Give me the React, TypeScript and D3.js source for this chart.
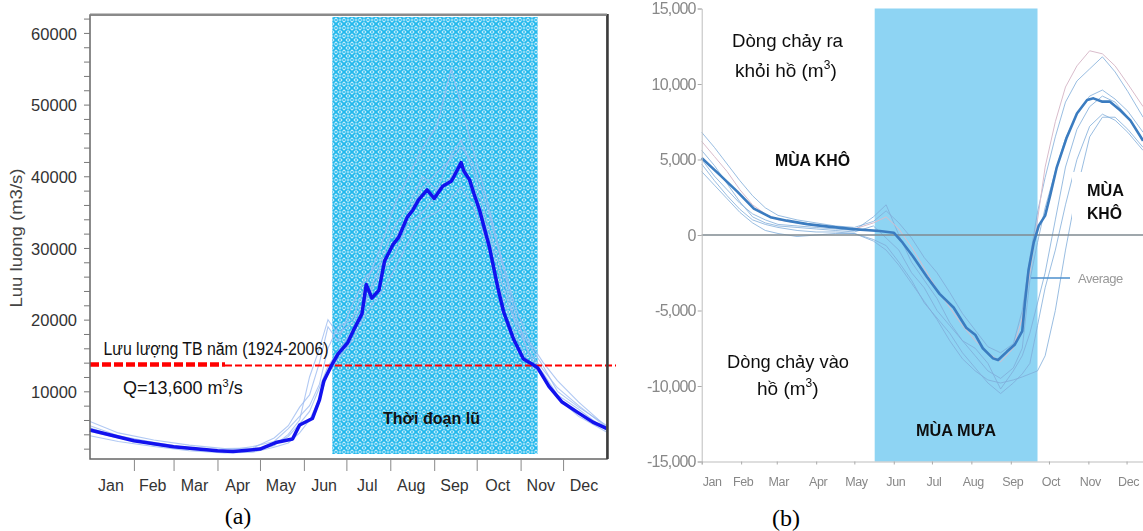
import { useEffect, useRef } from 'react';
import * as d3 from 'd3';

// shared calendar
const monthNames = ['Jan', 'Feb', 'Mar', 'Apr', 'May', 'Jun', 'Jul', 'Aug', 'Sep', 'Oct', 'Nov', 'Dec'];
const monthStarts = [0, 31, 59, 90, 120, 151, 181, 212, 243, 273, 304, 334, 365];

// ---- panel (a): discharge
const floodPeriodA = [171, 316];
const avgFlowA = 13600;
const meanDayA = [0, 31, 59, 90, 101, 120, 132, 143, 148, 157, 162, 165, 171, 175, 182, 186, 192, 195, 199, 204, 208, 214, 218, 224, 228, 232, 238, 243, 249, 255, 257, 262, 264, 268, 271, 275, 282, 288, 292, 299, 306, 312, 316, 324, 333, 344, 355, 365];
const meanFlowA = [4600, 3100, 2260, 1700, 1600, 1950, 2900, 3350, 5300, 6200, 8800, 11400, 13800, 15200, 16800, 18500, 20800, 24900, 23000, 24100, 28200, 30500, 31500, 34300, 35300, 36700, 38100, 36900, 38600, 39300, 40000, 41900, 40700, 39500, 37600, 35300, 30100, 24400, 21100, 17300, 14500, 13800, 13300, 10700, 8550, 7100, 5700, 4800];
const yearDayA = [0, 20, 45, 70, 95, 115, 130, 140, 148, 155, 162, 168, 175, 185, 195, 205, 215, 225, 235, 245, 255, 262, 270, 280, 290, 300, 310, 320, 330, 345, 365];
const yearFlowA1 = [5800, 4200, 3200, 2500, 2000, 2100, 3500, 5200, 7800, 9500, 14000, 19000, 17000, 22000, 26000, 28000, 33000, 36000, 40000, 38000, 43000, 45000, 41000, 34000, 27000, 20000, 16500, 13500, 10000, 7800, 5200];
const yearFlowA2 = [3800, 3000, 2300, 1700, 1400, 1500, 2200, 2800, 4200, 6000, 9000, 12500, 14500, 17000, 21000, 23500, 27000, 31000, 34000, 35000, 37000, 38500, 36000, 31000, 24000, 18000, 14000, 12000, 9000, 6500, 4300];
const yearFlowA3 = [4400, 3500, 2700, 2000, 1700, 2300, 3000, 4800, 6500, 8000, 11000, 16000, 19000, 20000, 25000, 30000, 36000, 40000, 44000, 47000, 55000, 50000, 44000, 37000, 29000, 22000, 17000, 14000, 11500, 8500, 5000];
const yearFlowA4 = [5200, 3800, 2900, 2100, 1600, 1800, 2600, 3700, 5500, 7200, 10500, 13500, 15500, 18500, 22500, 26500, 29000, 33500, 35000, 37500, 40000, 42000, 39000, 33000, 25500, 19500, 15500, 13000, 10500, 8000, 4900];
const yearFlowA5 = [4900, 3600, 2500, 1900, 1500, 1700, 2400, 4000, 6000, 12000, 16000, 20000, 18000, 19500, 23000, 27500, 31000, 35000, 38500, 40500, 42500, 44000, 42000, 36000, 28500, 21000, 15000, 12500, 9500, 7500, 4500];

// ---- panel (b): reservoir exchange
const rainSeasonB = [136, 264];
const meanDayB = [0, 14, 28, 41, 54, 67, 83, 98, 119, 140, 151, 158, 166, 177, 187, 198, 208, 215, 221, 229, 233, 240, 246, 252, 254, 257, 261, 265, 270, 274, 279, 287, 295, 303, 308, 315, 321, 329, 337, 347];
const meanFlowB = [5100, 4000, 2870, 1750, 1180, 950, 720, 570, 390, 270, 150, -510, -1410, -2770, -3900, -4800, -6140, -6600, -7500, -8170, -8280, -7720, -7270, -6370, -4560, -2300, -510, 620, 1280, 2640, 4440, 6460, 8050, 8940, 9050, 8830, 8830, 8260, 7590, 6240];
const yearDayB = [0, 10, 20, 30, 40, 50, 60, 75, 90, 105, 120, 135, 145, 155, 165, 175, 185, 195, 205, 215, 225, 235, 245, 252, 258, 264, 270, 278, 286, 295, 305, 315, 325, 335, 347];
const yearFlowB1 = [6800, 5800, 4700, 3600, 2600, 1800, 1300, 1000, 800, 600, 500, 900, 1600, 800, -200, -1500, -2500, -3800, -5200, -6300, -7400, -7800, -7200, -5000, -1500, 1500, 3800, 6500, 8800, 10200, 11000, 11800, 10800, 9500, 7800];
const yearFlowB2 = [4200, 3300, 2400, 1500, 800, 300, 100, -100, 0, 100, 100, -300, -700, -1800, -3000, -4500, -5500, -6500, -7800, -8800, -9800, -10500, -9800, -9200, -8500, -6000, -3500, -1000, 2000, 5000, 7200, 8000, 7600, 6800, 5600];
const yearFlowB3 = [5600, 4600, 3400, 2200, 1200, 800, 600, 500, 400, 300, 200, 600, -200, -1000, -2500, -3500, -5000, -6000, -7000, -8000, -9000, -9500, -8800, -7500, -3000, -500, 1800, 4200, 6400, 8000, 9200, 9600, 9000, 8200, 6800];
const yearFlowB4 = [5000, 3900, 3000, 2100, 1400, 1000, 700, 600, 500, 400, 300, 1200, 2000, 0, -1800, -3000, -4200, -5800, -7000, -7500, -8500, -10200, -9000, -8000, -6500, -4500, -2500, 1000, 4500, 7000, 8500, 9200, 8800, 7800, 6300];
const yearFlowB5 = [4700, 3600, 2600, 1700, 1000, 700, 500, 300, 200, 200, 100, -400, -1000, -2000, -3200, -4400, -5600, -7000, -8200, -9000, -9600, -9800, -9600, -9400, -9200, -9000, -8000, -5000, -1000, 3000, 6500, 7800, 7800, 7000, 5800];
const yearFlowB6 = [6200, 5200, 4200, 3000, 2000, 1400, 1000, 800, 600, 500, 400, 800, 1200, 400, -800, -2200, -3600, -4800, -6000, -7000, -7800, -8400, -7500, -5500, -2500, 1000, 4500, 7500, 9800, 11200, 12200, 12000, 11200, 10000, 8500];

const SANS = "'Liberation Sans', Arial, sans-serif";

export default function App() {
  const ref = useRef<SVGSVGElement>(null);

  useEffect(() => {
    if (!ref.current) return;
    const svg = d3.select(ref.current);
    svg.selectAll('*').remove();

    const defs = svg.append('defs');
    const pat = defs.append('pattern').attr('id', 'lattice')
      .attr('patternUnits', 'userSpaceOnUse').attr('width', 8).attr('height', 8);
    pat.append('rect').attr('width', 8).attr('height', 8).attr('fill', '#c8eefc');
    pat.append('path').attr('d', 'M0,0L8,8M8,0L0,8').attr('stroke', '#22b8ec').attr('stroke-width', 1.9);
    pat.append('path').attr('d', 'M4,0V1.5M4,6.5V8M0,4H1.5M6.5,4H8').attr('stroke', '#22b8ec').attr('stroke-width', 1.4);
    pat.append('rect').attr('x', 3.3).attr('y', 3.3).attr('width', 1.4).attr('height', 1.4).attr('fill', '#ffffff');
    defs.append('filter').attr('id', 'soft').append('feGaussianBlur').attr('stdDeviation', 0.45);

    // ================= (a)
    const A = { left: 90, right: 607, top: 15, bottom: 459 };
    const xA = d3.scaleLinear().domain([0, 365]).range([A.left, A.right]);
    const yA = d3.scaleLinear().domain([0, 62500]).range([463, A.top]);
    const ga = svg.append('g');

    ga.append('rect')
      .attr('x', xA(floodPeriodA[0])).attr('y', A.top + 2)
      .attr('width', xA(floodPeriodA[1]) - xA(floodPeriodA[0]))
      .attr('height', A.bottom - A.top - 7)
      .attr('fill', 'url(#lattice)');

    const lineA = (days: number[]) => d3.line<number>().x((_, i) => xA(days[i])).y(d => yA(d));
    [yearFlowA1, yearFlowA2, yearFlowA3, yearFlowA4, yearFlowA5].forEach(s => {
      ga.append('path').attr('d', lineA(yearDayA)(s)).attr('fill', 'none')
        .attr('stroke', '#9dbcf0').attr('stroke-width', 1.1).attr('opacity', 0.8);
    });

    // average annual discharge
    const yAvg = yA(avgFlowA);
    ga.append('line').attr('x1', A.left).attr('x2', 225).attr('y1', yAvg - 1).attr('y2', yAvg - 1)
      .attr('stroke', '#ff0000').attr('stroke-width', 4.5).attr('stroke-dasharray', '9,3');
    ga.append('line').attr('x1', 225).attr('x2', 616).attr('y1', yAvg).attr('y2', yAvg)
      .attr('stroke', '#ff0000').attr('stroke-width', 2).attr('stroke-dasharray', '7,3');

    ga.append('path').attr('d', lineA(meanDayA)(meanFlowA)).attr('fill', 'none')
      .attr('stroke', '#1212ee').attr('stroke-width', 3.5).attr('stroke-linejoin', 'round');

    // frame
    ga.append('rect').attr('x', A.left).attr('y', A.top).attr('width', A.right - A.left).attr('height', A.bottom - A.top)
      .attr('fill', 'none').attr('stroke', '#666').attr('stroke-width', 1.5);
    ga.append('line').attr('x1', A.right + 0.5).attr('x2', A.right + 0.5).attr('y1', A.top - 1).attr('y2', A.bottom)
      .attr('stroke', '#3c3c3c').attr('stroke-width', 2.5);
    ga.append('line').attr('x1', A.left).attr('x2', A.right).attr('y1', A.top - 0.5).attr('y2', A.top - 0.5)
      .attr('stroke', '#8a8a8a').attr('stroke-width', 2);

    const axL = ga.append('g').attr('transform', `translate(${A.left},0)`)
      .call(d3.axisLeft(yA).tickValues(d3.range(2000, 62001, 2000)).tickSize(6).tickPadding(7)
        .tickFormat(d => (+d % 10000 === 0 ? String(d) : '')));
    axL.select('.domain').remove();
    axL.selectAll('line').attr('stroke', '#777');
    axL.selectAll('text').attr('font-family', SANS).attr('font-size', 16.5).attr('fill', '#333')
      .attr('transform', 'translate(0,1)');

    const axB = ga.append('g').attr('transform', `translate(0,${A.bottom})`)
      .call(d3.axisBottom(xA).tickValues(monthStarts.slice(1, -1)).tickSize(12).tickFormat(() => ''));
    axB.select('.domain').remove();
    axB.selectAll('line').attr('stroke', '#888');

    ga.selectAll('.mlabA').data(monthNames).enter().append('text')
      .attr('x', (_, i) => xA((monthStarts[i] + monthStarts[i + 1]) / 2) - 1)
      .attr('y', 491).attr('text-anchor', 'middle')
      .attr('font-family', SANS).attr('font-size', 16).attr('fill', '#333').text(d => d);

    ga.append('text').attr('transform', 'translate(22,238) rotate(-90)').attr('text-anchor', 'middle')
      .attr('font-family', SANS).attr('font-size', 16).attr('fill', '#444')
      .attr('textLength', 139).attr('lengthAdjust', 'spacingAndGlyphs').text('Luu luong (m3/s)');

    ga.append('text').attr('x', 103.5).attr('y', 355).attr('font-family', SANS).attr('font-size', 18)
      .attr('textLength', 225).attr('lengthAdjust', 'spacingAndGlyphs').attr('fill', '#111')
      .text('Lưu lượng TB năm (1924-2006)');
    const q = ga.append('text').attr('x', 123).attr('y', 394).attr('font-family', SANS).attr('font-size', 18)
      .attr('fill', '#111');
    q.append('tspan').text('Q=13,600 m');
    q.append('tspan').attr('font-size', 11).attr('dy', -7).text('3');
    q.append('tspan').attr('dy', 7).text('/s');
    ga.append('text').attr('x', 383).attr('y', 424).attr('font-family', SANS).attr('font-size', 17)
      .attr('font-weight', 'bold').attr('textLength', 97).attr('lengthAdjust', 'spacingAndGlyphs')
      .attr('fill', '#111').text('Thời đoạn lũ');

    svg.append('text').attr('x', 238).attr('y', 524).attr('text-anchor', 'middle')
      .attr('font-family', "'Liberation Serif', 'Times New Roman', serif").attr('font-size', 24).attr('fill', '#000').text('(a)');

    // ================= (b)
    const xB = d3.scaleLinear().domain([0, 365]).range([701.7, 701.7 + 365 * 1.272]);
    const yB = d3.scaleLinear().domain([-15000, 15000]).range([461.5, 8.5]);
    const gb = svg.append('g').attr('filter', 'url(#soft)');

    gb.append('rect').attr('x', xB(rainSeasonB[0])).attr('y', yB(15000))
      .attr('width', xB(rainSeasonB[1]) - xB(rainSeasonB[0])).attr('height', yB(-15000) - yB(15000))
      .attr('fill', '#8ed4f3');

    const lineB = (days: number[]) => d3.line<number>().x((_, i) => xB(days[i])).y(d => yB(d));
    [yearFlowB1, yearFlowB2, yearFlowB3, yearFlowB4, yearFlowB5].forEach(s => {
      gb.append('path').attr('d', lineB(yearDayB)(s)).attr('fill', 'none')
        .attr('stroke', '#7fadda').attr('stroke-width', 1).attr('opacity', 0.8);
    });
    gb.append('path').attr('d', lineB(yearDayB)(yearFlowB6)).attr('fill', 'none')
      .attr('stroke', '#d9bccb').attr('stroke-width', 1);

    gb.append('line').attr('x1', xB(0)).attr('x2', 1143).attr('y1', yB(0)).attr('y2', yB(0))
      .attr('stroke', '#7f8a90').attr('stroke-width', 1.3);

    gb.append('path').attr('d', lineB(meanDayB)(meanFlowB)).attr('fill', 'none')
      .attr('stroke', '#3a7cc0').attr('stroke-width', 2.6).attr('stroke-linejoin', 'round');

    const bL = gb.append('g').attr('transform', `translate(${xB(0)},0)`)
      .call(d3.axisLeft(yB).tickValues(d3.range(-15000, 15001, 5000)).tickSize(4).tickPadding(2)
        .tickFormat(d => d3.format(',')(+d).replace('−', '-')));
    bL.select('.domain').attr('stroke', '#bdbdbd');
    bL.selectAll('line').attr('stroke', '#aaa');
    bL.selectAll('text').attr('font-family', SANS).attr('font-size', 16).attr('letter-spacing', -0.8)
      .attr('fill', '#888');

    const bB = gb.append('g').attr('transform', `translate(0,${yB(-15000)})`)
      .call(d3.axisBottom(xB).tickValues(monthStarts.slice(0, -1)).tickSize(3).tickFormat(() => ''));
    bB.select('.domain').attr('stroke', '#bdbdbd');
    bB.selectAll('line').attr('stroke', '#aaa');

    gb.selectAll('.mlabB').data(monthNames).enter().append('text')
      .attr('x', (_, i) => (i === 0 ? xB(0) + 1 : xB(monthStarts[i]) + 2))
      .attr('y', 486).attr('text-anchor', (_, i) => (i === 0 ? 'start' : 'middle'))
      .attr('font-family', SANS).attr('font-size', 12.5).attr('letter-spacing', -0.4).attr('fill', '#888').text(d => d);

    // white label box
    gb.append('rect').attr('x', 1072).attr('y', 172).attr('width', 71).attr('height', 52).attr('fill', '#fff');

    const txt = (g: any, x: number, y: number, s: string, size: number, len: number, bold = false) =>
      g.append('text').attr('x', x).attr('y', y).attr('font-family', SANS).attr('font-size', size)
        .attr('font-weight', bold ? 'bold' : 'normal').attr('textLength', len).attr('lengthAdjust', 'spacingAndGlyphs')
        .attr('fill', '#111').text(s);

    txt(gb, 732, 47, 'Dòng chảy ra', 19, 111);
    const k1 = gb.append('text').attr('x', 735).attr('y', 77).attr('font-family', SANS).attr('font-size', 19).attr('fill', '#111');
    k1.append('tspan').text('khỏi hồ (m');
    k1.append('tspan').attr('font-size', 12).attr('dy', -8).text('3');
    k1.append('tspan').attr('dy', 8).text(')');
    txt(gb, 727, 368, 'Dòng chảy vào', 19, 122);
    const k2 = gb.append('text').attr('x', 757).attr('y', 395).attr('font-family', SANS).attr('font-size', 19).attr('fill', '#111');
    k2.append('tspan').text('hồ (m');
    k2.append('tspan').attr('font-size', 12).attr('dy', -8).text('3');
    k2.append('tspan').attr('dy', 8).text(')');

    txt(gb, 775, 166, 'MÙA KHÔ', 16, 75, true);
    txt(gb, 1087, 196, 'MÙA', 16, 37, true);
    txt(gb, 1087, 219, 'KHÔ', 16, 35, true);
    txt(gb, 916, 436, 'MÙA MƯA', 16, 80, true);

    gb.append('line').attr('x1', 1031).attr('x2', 1070).attr('y1', 278).attr('y2', 278)
      .attr('stroke', '#4d8fcc').attr('stroke-width', 1.6);
    gb.append('text').attr('x', 1078).attr('y', 283).attr('font-family', SANS).attr('font-size', 13)
      .attr('letter-spacing', -0.5).attr('fill', '#999').text('Average');

    svg.append('text').attr('x', 786).attr('y', 526).attr('text-anchor', 'middle')
      .attr('font-family', "'Liberation Serif', 'Times New Roman', serif").attr('font-size', 24).attr('fill', '#000').text('(b)');
  }, []);

  return (
    <svg ref={ref} width={1143} height={531}
      style={{ position: 'absolute', left: 0, top: 0, background: '#fff', display: 'block' }} />
  );
}
